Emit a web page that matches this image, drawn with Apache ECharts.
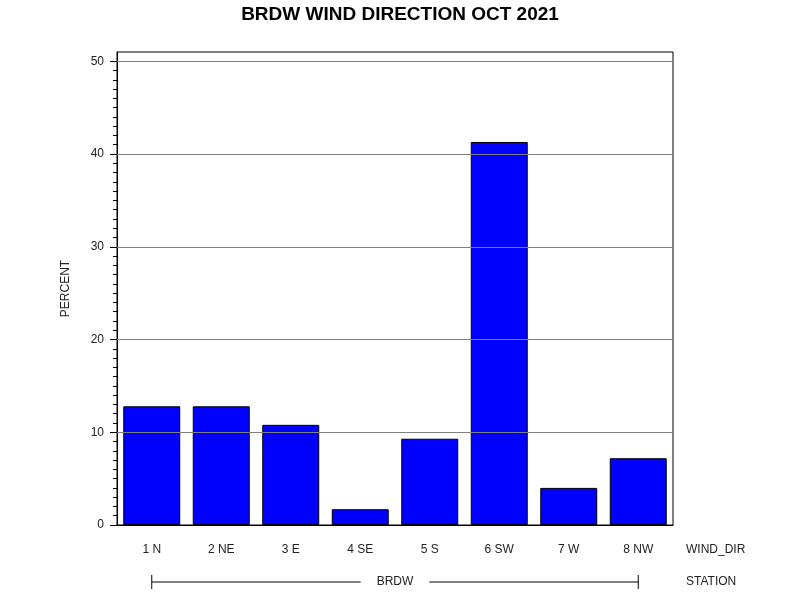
<!DOCTYPE html>
<html>
<head>
<meta charset="utf-8">
<script src="https://cdn.jsdelivr.net/npm/echarts@6/dist/echarts.min.js"></script>
<style>
  html, body { margin: 0; padding: 0; background: #fff; }
  #main { width: 800px; height: 600px; }
</style>
</head>
<body>
<div id="main"></div>
<script>
// wind direction categories and percent of hours
const windDirs = ['1 N', '2 NE', '3 E', '4 SE', '5 S', '6 SW', '7 W', '8 NW'];
const percent = [12.8, 12.8, 10.8, 1.7, 9.3, 41.3, 4.0, 7.2];
const majorTicks = [0, 10, 20, 30, 40, 50];
const gridValues = [10, 20, 30, 40, 50];
const minorTicks = [1, 2, 3, 4, 5, 6, 7, 8, 9, 11, 12, 13, 14, 15, 16, 17, 18, 19,
	21, 22, 23, 24, 25, 26, 27, 28, 29, 31, 32, 33, 34, 35, 36, 37, 38, 39,
	41, 42, 43, 44, 45, 46, 47, 48, 49];
const station = 'BRDW';

const font = 'Liberation Sans, Arial, sans-serif';
const gridL = 117, gridR = 127, gridT = 52, gridB = 75;

let chart = echarts.init(document.getElementById('main'));
let option = {
	animation: false,
	title: {
		text: 'BRDW WIND DIRECTION OCT 2021',
		left: 'center',
		top: 0,
		textStyle: { fontFamily: font, fontSize: 19, fontWeight: 'bold', color: '#000' }
	},
	grid: {
		left: gridL, right: gridR, top: gridT, bottom: gridB,
		show: true, borderColor: '#000', borderWidth: 1, backgroundColor: '#fff'
	},
	xAxis: {
		type: 'category',
		data: windDirs,
		axisLine: { lineStyle: { color: '#000' } },
		axisTick: { show: false },
		axisLabel: { margin: 19, fontFamily: font, fontSize: 12, color: '#222' }
	},
	yAxis: [
		{
			type: 'value', min: 0, max: 51,
			name: 'PERCENT',
			nameLocation: 'middle',
			nameGap: 45,
			nameTextStyle: { fontFamily: font, fontSize: 12, color: '#222' },
			axisLine: { show: true, lineStyle: { color: '#000' } },
			axisTick: { show: true, length: 7, customValues: majorTicks, lineStyle: { color: '#000' } },
			axisLabel: { customValues: majorTicks, margin: 13, fontFamily: font, fontSize: 12, color: '#222' },
			splitLine: { show: false }
		},
		{
			type: 'value', min: 0, max: 51, position: 'left',
			axisLine: { show: false },
			axisTick: { show: true, length: 4, customValues: minorTicks, lineStyle: { color: '#000' } },
			axisLabel: { show: false },
			splitLine: { show: false }
		}
	],
	series: [{
		type: 'bar',
		data: percent,
		barCategoryGap: '18%',
		itemStyle: { color: '#0000ff', borderColor: '#000', borderWidth: 1 },
		markLine: {
			silent: true,
			symbol: 'none',
			label: { show: false },
			lineStyle: { color: '#808080', width: 1, type: 'solid' },
			data: gridValues.map(v => ({ yAxis: v }))
		}
	}]
};
chart.setOption(option);

// station axis under the categories, spanning first to last bar centre
let x1 = chart.convertToPixel({ xAxisIndex: 0 }, windDirs[0]);
let x2 = chart.convertToPixel({ xAxisIndex: 0 }, windDirs[windDirs.length - 1]);
let y0 = chart.convertToPixel({ yAxisIndex: 0 }, 0);
let labelY = y0 + 25;
let stationY = y0 + 57;
let nameX = 800 - gridR + 13;
chart.setOption({
	graphic: [
		{ type: 'line', shape: { x1: x1, y1: stationY, x2: x2, y2: stationY }, style: { stroke: '#000', lineWidth: 1 } },
		{ type: 'line', shape: { x1: x1, y1: stationY - 7, x2: x1, y2: stationY + 7 }, style: { stroke: '#000', lineWidth: 1 } },
		{ type: 'line', shape: { x1: x2, y1: stationY - 7, x2: x2, y2: stationY + 7 }, style: { stroke: '#000', lineWidth: 1 } },
		{ type: 'text', x: (x1 + x2) / 2, y: stationY, z: 10,
		  style: { text: station, align: 'center', verticalAlign: 'middle', font: '12px ' + font, fill: '#222',
		           backgroundColor: '#fff', padding: [2, 16] } },
		{ type: 'text', x: nameX, y: labelY,
		  style: { text: 'WIND_DIR', align: 'left', verticalAlign: 'middle', font: '12px ' + font, fill: '#222' } },
		{ type: 'text', x: nameX, y: stationY,
		  style: { text: 'STATION', align: 'left', verticalAlign: 'middle', font: '12px ' + font, fill: '#222' } }
	]
});
</script>
</body>
</html>
